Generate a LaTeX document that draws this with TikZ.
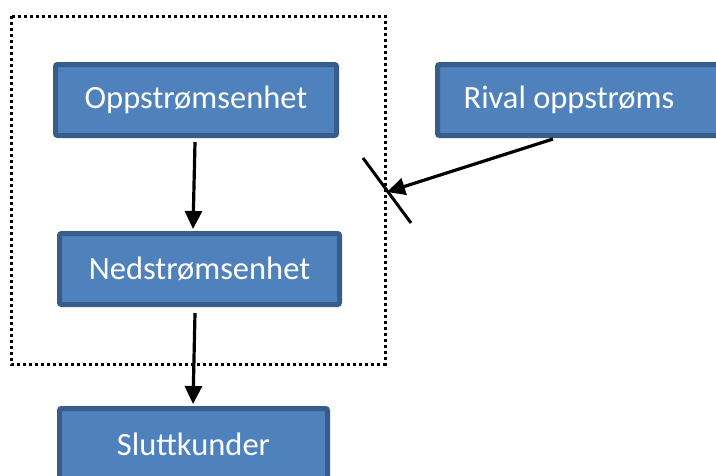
\documentclass[tikz,border=0pt]{standalone}
\usepackage{fontspec}
\setmainfont{Carlito}
\usetikzlibrary{arrows.meta, positioning, calc}

\definecolor{boxfill}{HTML}{4F81BD}
\definecolor{boxline}{HTML}{385D8A}

\begin{document}
\begin{tikzpicture}[
    x=1pt, y=-1pt,
    unit/.style={draw=boxline, fill=boxfill, line width=5pt, rounded corners=2pt, minimum width=281pt, minimum height=71pt, inner sep=0pt, text=white, font=\fontsize{32.5}{39}\selectfont},
    arrow/.style={-{Triangle[length=18pt, width=17pt]}, line width=3.2pt},
    firm/.style={dash pattern=on 3pt off 3pt, line width=3pt}
]
    \useasboundingbox (0,0) rectangle (716,475);

    \node[unit] (opp)   at (196,100)   {Oppstrømsenhet};
    \node[unit] (rival) at (578,100)   {Rival oppstrøms\hspace*{18pt}};
    \node[unit, minimum width=280pt] (ned)  at (199.5,269) {Nedstrømsenhet};
    \node[unit, minimum width=268pt] (slutt) at (193.5,444) {Sluttkunder};

    % Integrated firm
    \draw[firm] (11,16) rectangle (385,364);

    \draw[arrow] ([xshift=-1pt,yshift=-4pt]opp.south) -- ([xshift=-6.5pt,yshift=2pt]ned.north);
    \draw[arrow] ([xshift=-4.5pt,yshift=-6pt]ned.south) -- ([xshift=-0.5pt,yshift=2pt]slutt.north);

    % Blocked entry
    \coordinate (block) at (387,192);
    \draw[arrow] ([xshift=-25pt,yshift=-1pt]rival.south) -- (block);
    \draw[line width=3pt] ($(block)+(-24,-34)$) -- ($(block)+(24,31)$);

\end{tikzpicture}
\end{document}
